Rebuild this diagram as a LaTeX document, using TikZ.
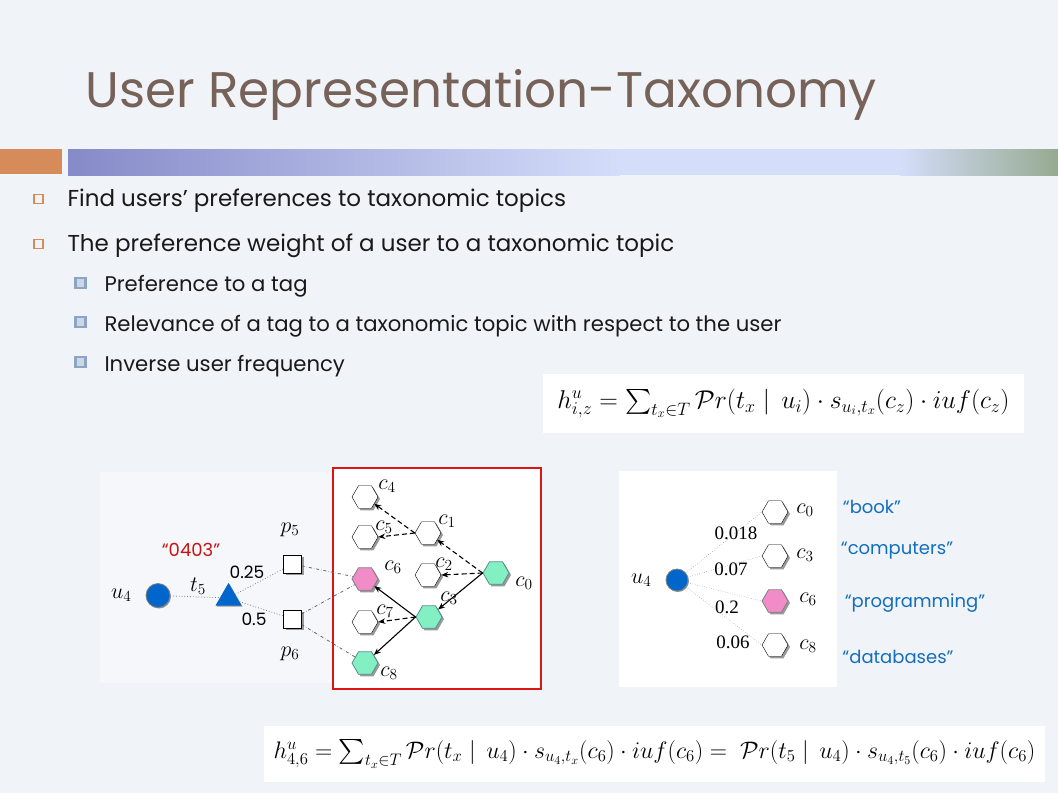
\RequirePackage{fix-cm}
\documentclass[tikz,border=0pt]{standalone}
\usepackage{exscale}
\usepackage{fontspec}
\setmainfont{Poppins}
\newfontfamily\numfont{Liberation Serif}
\usetikzlibrary{positioning,shapes.geometric,shadows,arrows.meta}

\definecolor{slidebg}{RGB}{240,244,248}
\definecolor{titlebrown}{RGB}{118,98,88}
\definecolor{barorange}{RGB}{214,140,90}
\definecolor{barleft}{RGB}{134,138,200}
\definecolor{barmid}{RGB}{212,222,250}
\definecolor{barright}{RGB}{150,170,145}
\definecolor{subbullet}{RGB}{140,165,195}
\definecolor{userblue}{RGB}{0,102,204}
\definecolor{mint}{RGB}{130,240,195}
\definecolor{mintborder}{RGB}{90,140,140}
\definecolor{pinkhex}{RGB}{242,140,200}
\definecolor{quoteblue}{RGB}{20,110,190}
\definecolor{quotered}{RGB}{200,20,20}
\definecolor{boxred}{RGB}{220,20,20}

\begin{document}
\begin{tikzpicture}[x=1pt, y=-1pt, >={Stealth[length=7pt, width=5.5pt]},
		hx/.style={regular polygon, regular polygon sides=6, minimum size=26pt, inner sep=0pt, draw=black, fill=white, drop shadow={shadow xshift=2pt, shadow yshift=-2pt, fill=gray!80, opacity=1}},
		gn/.style={hx, fill=mint, draw=mintborder, thick},
		pk/.style={hx, fill=pinkhex, draw=gray, thick},
		usr/.style={circle, fill=userblue, draw=gray, thick, minimum size=24pt, inner sep=0pt, drop shadow={shadow xshift=1pt, shadow yshift=-1pt, fill=gray!80, opacity=1}},
		tg/.style={regular polygon, regular polygon sides=3, fill=userblue, minimum size=30pt, inner sep=0pt, drop shadow={shadow xshift=1pt, shadow yshift=-1pt, fill=gray!80, opacity=1}},
		sq/.style={rectangle, draw=black, fill=white, minimum size=18pt, inner sep=0pt, drop shadow={shadow xshift=2pt, shadow yshift=-2pt, fill=gray!80, opacity=1}},
		bul/.style={rectangle, draw=barorange, line width=1.5pt, minimum size=9pt, inner sep=0pt},
		sbul/.style={rectangle, fill=subbullet!45, draw=subbullet, line width=2.5pt, minimum size=10pt, inner sep=0pt},
		txt/.style={anchor=base west, text=black!90, font=\fontsize{23}{23}\selectfont},
		stxt/.style={anchor=base west, text=black!90, font=\fontsize{21.2}{21.2}\selectfont},
		lbl/.style={font=\fontsize{22}{22}\selectfont, inner sep=1pt},
		wt/.style={font=\numfont\fontsize{19}{19}\selectfont, inner sep=1pt},
		qt/.style={font=\fontsize{18}{18}\selectfont, text=quoteblue, inner sep=1pt},
		ln/.style={line width=1.1pt},
		dl/.style={line width=1.1pt, dash pattern=on 5pt off 3pt},
		fbox/.style={fill=white, inner sep=0pt}]

		% slide
		\fill[slidebg] (0,0) rectangle (1058,793);
		\fill[barorange] (0,149) rectangle (62,174);
		\shade[left color=barleft, right color=barmid] (68,149) rectangle (620,175);
		\fill[barmid] (619.5,149) rectangle (900,175);
		\shade[left color=barmid, right color=barright] (899.5,149) rectangle (1058,175);

		\node[anchor=base west, text=titlebrown, font=\fontsize{50}{50}\selectfont] (title) at (82,107) {User Representation-Taxonomy};

		\node[bul] (b1) at (38.5,199) {};
		\node[bul] (b2) at (38.5,244) {};
		\node[sbul] (s1) at (80.5,283) {};
		\node[sbul] (s2) at (80.5,322) {};
		\node[sbul] (s3) at (80.5,362) {};
		\node[txt] (t1) at (64,206) {Find users’ preferences to taxonomic topics};
		\node[txt] (t2) at (64,251) {The preference weight of a user to a taxonomic topic};
		\node[stxt] (t3) at (101,291) {Preference to a tag};
		\node[stxt] (t4) at (101,331) {Relevance of a tag to a taxonomic topic with respect to the user};
		\node[stxt] (t5) at (101,371) {Inverse user frequency};

		\node[fbox, minimum width=481pt, minimum height=59pt, font=\fontsize{25.7}{25.7}\selectfont] (f1) at (783.5,403.5)
			{$\textstyle h^{u}_{i,z} = \sum_{t_x\in T} \mathcal{P}r(t_x \mid\, u_i)\cdot s_{u_i,t_x}(c_z)\cdot iuf(c_z)$};

		% tag graph
		\fill[white!30!slidebg] (100,472) rectangle (333,683);
		\draw[boxred, line width=1.5pt, fill=white] (333,468) rectangle (541,689);

		\node[usr] (u) at (158,595.5) {};
		\node[lbl, left=13pt of u] (ul) {$u_4$};
		\node[tg] (t) at (228.5,598) {};
		\node[sq] (p5) at (292.5,564) {};
		\node[sq] (p6) at (292.5,619) {};
		\node[lbl] (tl) at (198,586) {$t_5$};
		\node[lbl] (p5l) at (290,530) {$p_5$};
		\node[lbl] (p6l) at (290,654) {$p_6$};
		\node[qt, text=quotered] (code) at (191,550) {“0403”};
		\node[lbl, font=\fontsize{17}{17}\selectfont] (w1) at (247,572) {0.25};
		\node[lbl, font=\fontsize{17}{17}\selectfont] (w2) at (254,619) {0.5};

		\node[hx] (c4) at (365,497) {};
		\node[hx] (c5) at (365,537) {};
		\node[hx] (c1) at (428,533) {};
		\node[pk] (c6) at (365,579) {};
		\node[hx] (c2) at (428,575) {};
		\node[gn] (c0) at (496,573) {};
		\node[gn] (c3) at (429,617) {};
		\node[hx] (c7) at (365,622) {};
		\node[gn] (c8) at (365,663) {};
		\node[lbl] (c4l) at (387,486) {$c_4$};
		\node[lbl] (c5l) at (384,527) {$c_5$};
		\node[lbl] (c1l) at (447,521) {$c_1$};
		\node[lbl] (c6l) at (393,567) {$c_6$};
		\node[lbl] (c2l) at (444,564) {$c_2$};
		\node[lbl] (c0l) at (524,583) {$c_0$};
		\node[lbl] (c3l) at (449,598) {$c_3$};
		\node[lbl] (c7l) at (385,611) {$c_7$};
		\node[lbl] (c8l) at (389,673) {$c_8$};

		\path[gray, dotted, thick] (u) edge (t);
		\path[gray, dotted, thick] (t) edge (p5);
		\path[gray, dotted, thick] (t) edge (p6);
		\path[gray!80!black, dash dot, thick] (p5) edge (c6);
		\path[gray!80!black, dash dot, thick] (p6) edge (c6);
		\path[gray!80!black, dash dot, thick] (p6) edge (c8);

		\path[->, dl] (c1.west) edge (c4);
		\path[->, dl] (c1.west) edge (c5.east);
		\path[->, dl] (c0.west) edge (c1);
		\path[->, dl] (c0.west) edge (c2.east);
		\path[->, ln] (c0.west) edge (c3);
		\path[->, ln] (c3.west) edge (c6);
		\path[->, dl] (c3.west) edge (c7.east);
		\path[->, ln] (c3.west) edge (c8);

		% user weights
		\fill[white] (619,471) rectangle (837,687);
		\node[usr, minimum size=22pt] (ur) at (677,580) {};
		\node[lbl, left=13pt of ur] (url) {$u_4$};
		\node[hx] (r0) at (775,512) {};
		\node[hx] (r3) at (775,556) {};
		\node[pk] (r6) at (775,601) {};
		\node[hx] (r8) at (775,645) {};
		\node[lbl] (r0l) at (805,510) {$c_0$};
		\node[lbl] (r3l) at (805,555) {$c_3$};
		\node[lbl] (r6l) at (808,599) {$c_6$};
		\node[lbl] (r8l) at (808,646) {$c_8$};
		\node[wt] (v0) at (736,533) {0.018};
		\node[wt] (v3) at (731,569) {0.07};
		\node[wt] (v6) at (727,607) {0.2};
		\node[wt] (v8) at (733,642) {0.06};

		\path[gray!70!black, dotted] (ur) edge (r0.west);
		\path[gray!70!black, dotted] (ur) edge (r3.west);
		\path[gray!70!black, dotted] (ur) edge (r6.west);
		\path[gray!70!black, dotted] (ur) edge (r8.west);

		\node[qt] (q0) at (872,507) {“book”};
		\node[qt] (q3) at (897,551) {“computers”};
		\node[qt] (q6) at (915,603) {“programming”};
		\node[qt] (q8) at (898,657) {“databases”};

		\node[fbox, minimum width=781pt, minimum height=56pt, font=\fontsize{23.9}{23.9}\selectfont] (f2) at (654.5,754)
			{$\textstyle h^{u}_{4,6} = \sum_{t_x\in T} \mathcal{P}r(t_x \mid\, u_4)\cdot s_{u_4,t_x}(c_6)\cdot iuf(c_6) =\ \mathcal{P}r(t_5 \mid\, u_4)\cdot s_{u_4,t_5}(c_6)\cdot iuf(c_6)$};
	\end{tikzpicture}
\end{document}
